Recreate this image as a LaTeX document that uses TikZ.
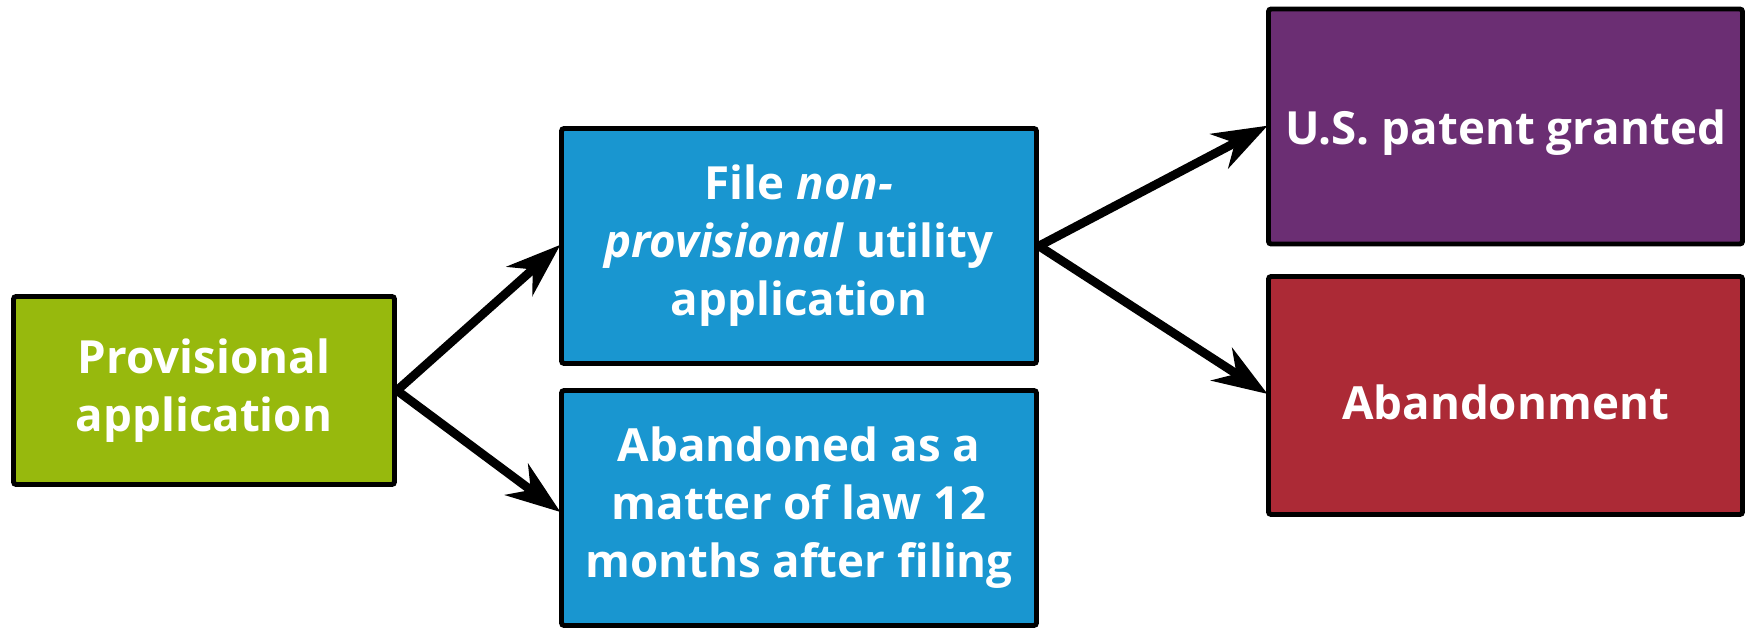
\documentclass[tikz,border=0pt]{standalone}
\usepackage{fontspec}
\setmainfont{Open Sans}
\usepackage{xcolor}
\usepackage{tikz}
\usetikzlibrary{positioning,arrows.meta}

\definecolor{provgreen}{HTML}{97B90D}
\definecolor{fileblue}{HTML}{1996D0}
\definecolor{grantpurple}{HTML}{6B2E73}
\definecolor{abandred}{HTML}{AC2A36}

\begin{document}
\begin{tikzpicture}[
    stage/.style={draw=black, line width=2.8pt, rounded corners=1.5pt, align=center,
        text=white, font=\fontsize{26}{33}\selectfont\bfseries, inner sep=0pt,
        execute at begin node={\rule{0pt}{27pt}}},
    midstage/.style={stage, minimum width=9.5cm, minimum height=4.7cm, fill=fileblue},
    endstage/.style={stage, minimum width=9.48cm, minimum height=4.7cm},
    path/.style={-{Stealth[length=31pt, width=22pt, inset=10pt]}, line width=5pt,
        line join=miter, shorten >=-1pt}
]
\useasboundingbox (0,0) rectangle (35.04,12.58);

% Stages
\node[stage, fill=provgreen, minimum width=7.62cm, minimum height=3.76cm] (prov) at (4.08, 4.77) {Provisional\\application};
\node[midstage] (nonprov) at (15.98, 7.66) {File \textit{non-}\\\textit{provisional} utility\\application};
\node[midstage] (lapsed) at (15.98, 2.42) {Abandoned as a\\matter of law 12\\months after filing};
\node[endstage, fill=grantpurple] (granted) at (30.11, 10.05) {U.S. patent granted};
\node[endstage, fill=abandred, minimum height=4.76cm] (abandon) at (30.11, 4.67) {Abandonment};

% Arrows
\draw[path] (prov.east) -- (nonprov.west);
\draw[path] (prov.east) -- ([yshift=-0.06cm]lapsed.west);
\draw[path] (nonprov.east) -- (granted.west);
\draw[path] (nonprov.east) -- ([yshift=0.05cm]abandon.west);

\end{tikzpicture}
\end{document}
